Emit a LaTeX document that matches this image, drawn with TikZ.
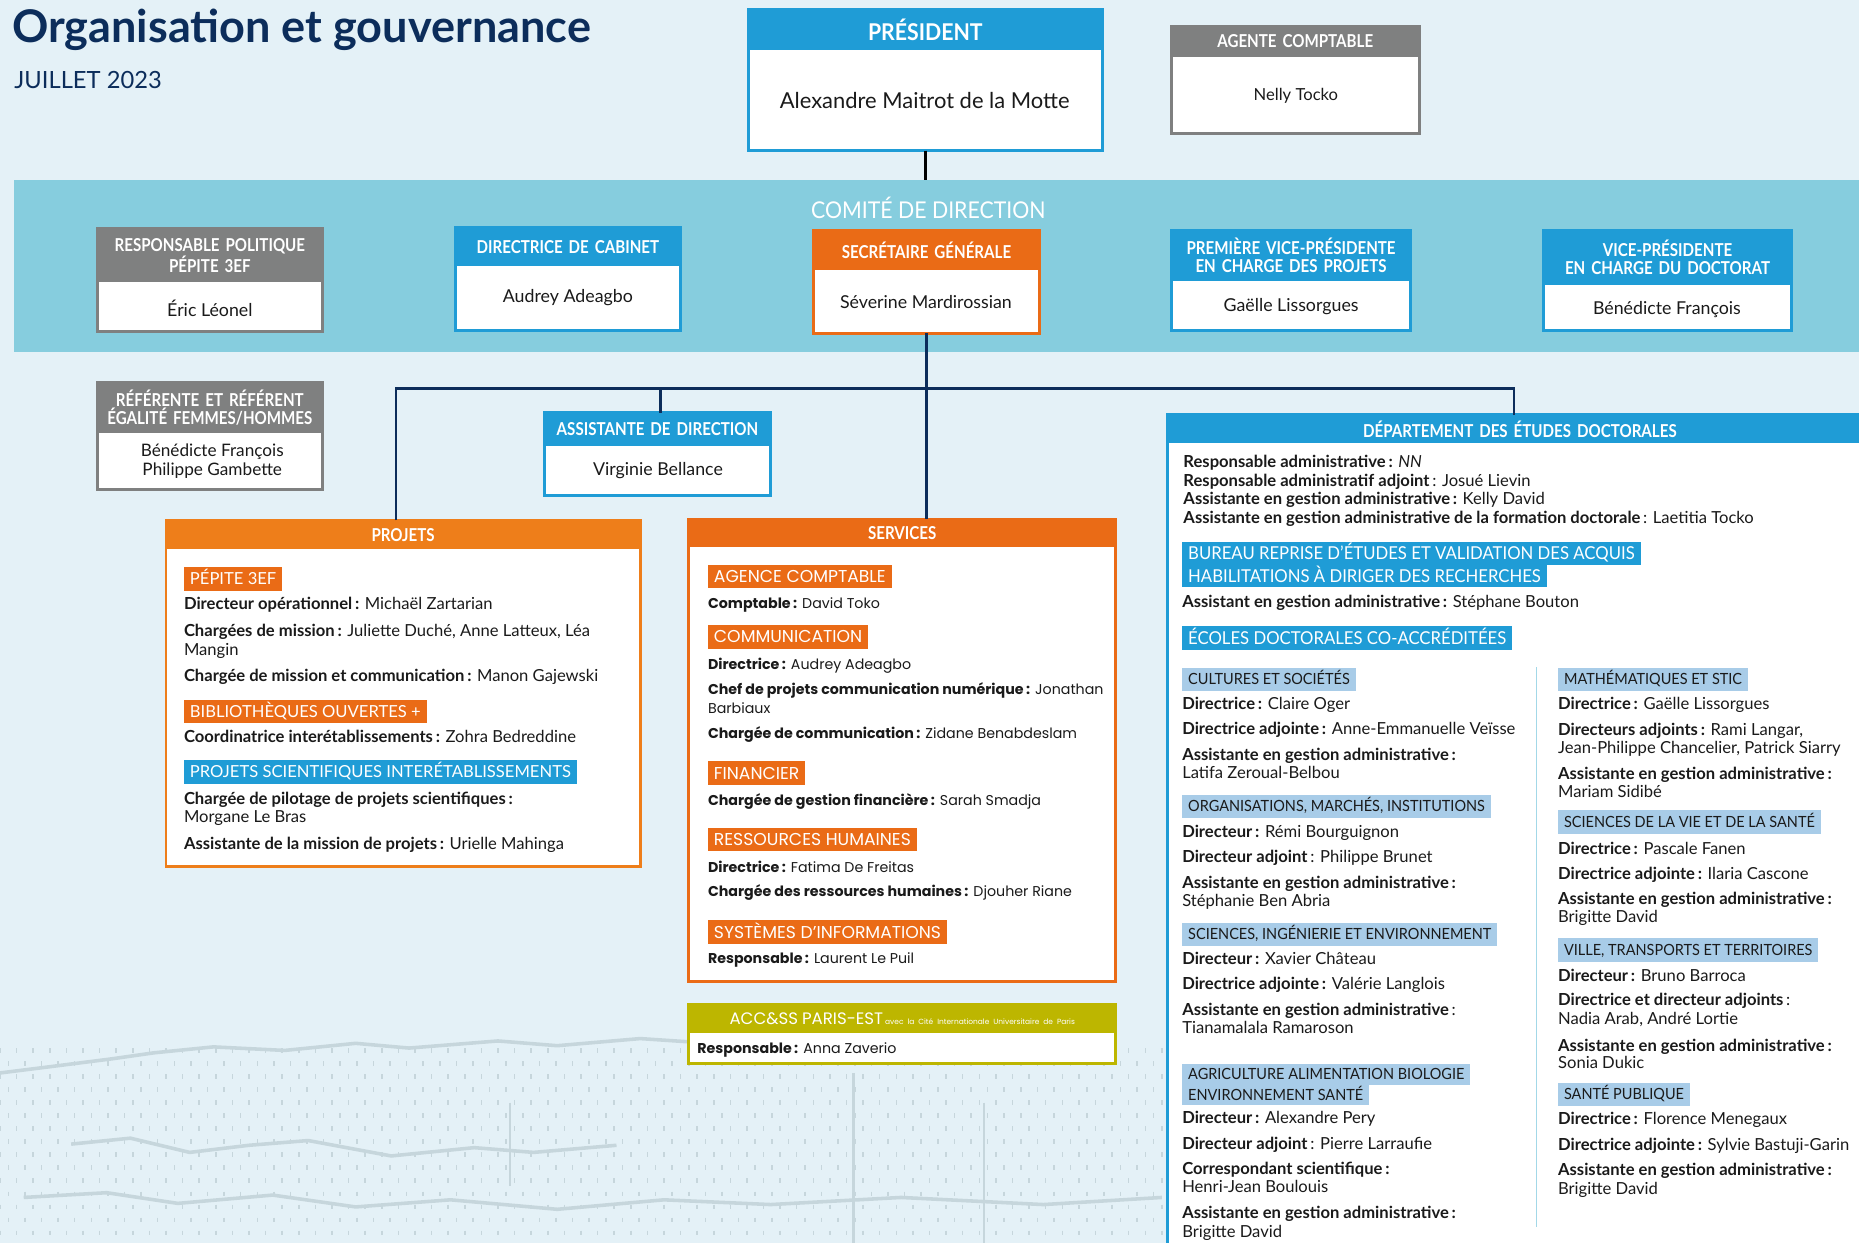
\documentclass[tikz,border=0pt]{standalone}
\usepackage{fontspec}
\setmainfont{Lato}
\newfontfamily\hdrf[FakeStretch=0.85]{Lato}
\newfontfamily\hdrw[FakeStretch=0.92]{Lato}
\newfontfamily\tagf[FakeStretch=0.94]{Lato}
\newfontfamily\popf{Poppins}
\newcounter{entc}
\definecolor{bgc}{HTML}{E4F1F7}
\definecolor{texc}{HTML}{C6D6DC}
\definecolor{bandc}{HTML}{86CDDE}
\definecolor{blueC}{HTML}{1F9CD6}
\definecolor{orangeC}{HTML}{EA6B16}
\definecolor{orangeL}{HTML}{EE7E1A}
\definecolor{grayC}{HTML}{7F8080}
\definecolor{oliveC}{HTML}{BDB600}
\definecolor{lblueC}{HTML}{A8CCE8}
\definecolor{navyC}{HTML}{0C2D5B}
\definecolor{txtC}{HTML}{1A1A1A}
\definecolor{sepC}{HTML}{A3D8E8}
\tikzset{
  box/.style={draw=#1, line width=2.5pt, fill=white, anchor=north west, inner sep=0pt, outer sep=0pt},
  hdr/.style={fill=#1, anchor=north west, inner sep=0pt, outer sep=0pt, text=white, align=center},
  hfont/.style={font=\hdrf\bfseries\fontsize{15}{15}\selectfont},
  bodyt/.style={text=txtC, font=\fontsize{15}{16}\selectfont, align=center, inner sep=0pt},
  conn/.style={draw=navyC, line width=2.5pt},
  tex/.style={draw=texc, line width=1.2pt},
  tagO/.style={fill=orangeC, text=white, anchor=north west, inner xsep=5pt, inner ysep=0pt, minimum height=20pt, text height=10pt, text depth=0pt, font=\fontsize{14}{14}\selectfont},
  tagB/.style={tagO, fill=blueC},
  tagS/.style={tagO, font=\popf\fontsize{14.5}{14.5}\selectfont, text height=10pt},
  tagD/.style={tagO, fill=blueC, font=\tagf\fontsize{15}{15}\selectfont, text height=10.5pt},
  tagL/.style={tagO, fill=lblueC, text=txtC, font=\tagf\fontsize{13}{13}\selectfont, text height=9pt},
  entP/.style={anchor=base west, inner sep=0pt, text=txtC, font=\fontsize{14}{14}\selectfont},
  entS/.style={anchor=base west, inner sep=0pt, text=txtC, font=\popf\fontsize{12}{12}\selectfont},
  entD/.style={anchor=base west, inner sep=0pt, text=txtC, font=\fontsize{14}{14}\selectfont},
}
\newcommand\ent[4][entD]{\stepcounter{entc}\edef\entname{e\arabic{entc}}\node[#1] (\entname) at (#2,{#3+4.5}) {#4};}
\newcommand\orgbox[9]{%
  \node[box=#2, minimum width=#5pt, minimum height=#6pt] (#1) at (#3,#4) {};
  \node[hdr=#2, hfont, #8, minimum width=#5pt, minimum height=#7pt, text width=#5pt] (#1h) at (#3,#4) {#9};
}
\begin{document}
\begin{tikzpicture}[x=1pt,y=-1pt]
\useasboundingbox (0,0) rectangle (1568,1048);
\fill[bgc] (0,0) rectangle (1568,1048);
\clip (0,0) rectangle (1568,1048);

% faint background texture (lower left)
\foreach \i in {0,...,70} {
  \foreach \j in {0,...,15} {
    \draw[tex, line width=1.3pt] ({\i*14+mod(\j,2)*7},{884+\j*11}) -- ++(0,4);
  }
}
\draw[tex, line width=3pt] (0,905) -- (40,900) -- (95,893) -- (130,888) -- (180,883) -- (240,886) -- (300,880) -- (345,884) -- (420,878) -- (470,882) -- (540,876) -- (600,880);
\draw[tex, line width=3pt] (60,965) -- (110,960) -- (160,972) -- (210,966) -- (260,962) -- (330,975) -- (400,968) -- (450,972) -- (520,966);
\draw[tex, line width=3pt] (20,1010) -- (90,1006) -- (150,1015) -- (230,1008) -- (300,1018) -- (380,1012) -- (470,1020) -- (560,1012) -- (650,1016) -- (760,1010) -- (880,1016) -- (980,1010);
\draw[tex, line width=2pt] (720,905) -- (720,1048);
\draw[tex, line width=2pt] (830,930) -- (830,1048);
\draw[tex, line width=2pt] (430,930) -- (430,1000);

% title
\node[anchor=base west, inner sep=0pt, text=navyC, font=\bfseries\fontsize{38}{40}\selectfont] (title) at (10,36) {Organisation et gouvernance};
\node[anchor=base west, inner sep=0pt, text=navyC, font=\fontsize{20}{20}\selectfont] (date) at (12,75) {JUILLET 2023};

% comite band
\node[fill=bandc, anchor=north west, inner sep=0pt, minimum width=1556pt, minimum height=145pt] (codir) at (12,152) {};
\node[text=white, inner sep=0pt, font=\hdrw\fontsize{19.5}{20}\selectfont] (codirt) at (783,175) {COMITÉ DE DIRECTION};

% president & agente comptable
\orgbox{pres}{blueC}{631}{8}{299}{119}{34}{font=\hdrw\bfseries\fontsize{19.5}{20}\selectfont}{PRÉSIDENT}
\node[bodyt, font=\fontsize{18.5}{20}\selectfont] (presn) at (780,85) {Alexandre Maitrot de la Motte};
\orgbox{agc}{grayC}{988}{22}{209}{91}{26}{}{AGENTE COMPTABLE}
\node[bodyt, font=\fontsize{14}{16}\selectfont] (agcn) at (1093,81) {Nelly Tocko};

% comite members
\orgbox{cA}{grayC}{82}{193}{190}{87}{45}{}{RESPONSABLE POLITIQUE\\PÉPITE 3EF}
\node[bodyt] (cAn) at (177,260) {Éric Léonel};
\orgbox{cB}{blueC}{384}{192}{190}{87}{32}{}{DIRECTRICE DE CABINET}
\node[bodyt] (cBn) at (479,251) {Audrey Adeagbo};
\orgbox{cC}{orangeC}{686}{194}{191}{87}{34}{}{SECRÉTAIRE GÉNÉRALE}
\node[bodyt] (cCn) at (781,255) {Séverine Mardirossian};
\orgbox{cD}{blueC}{988}{194}{202}{85}{43}{}{PREMIÈRE VICE-PRÉSIDENTE\\EN CHARGE DES PROJETS}
\node[bodyt] (cDn) at (1089,259) {Gaëlle Lissorgues};
\orgbox{cE}{blueC}{1302}{194}{209}{85}{46}{}{VICE-PRÉSIDENTE\\EN CHARGE DU DOCTORAT}
\node[bodyt] (cEn) at (1406,261) {Bénédicte François};

% referents
\orgbox{ref}{grayC}{82}{323}{190}{90}{42}{}{RÉFÉRENTE ET RÉFÉRENT\\ÉGALITÉ FEMMES/HOMMES}
\node[bodyt, font=\fontsize{14.5}{16}\selectfont] (refn) at (179,389) {Bénédicte François\\Philippe Gambette};

% assistante de direction
\orgbox{asd}{blueC}{459}{348}{191}{70}{28}{}{ASSISTANTE DE DIRECTION}
\node[bodyt] (asdn) at (555,397) {Virginie Bellance};

% big boxes
\orgbox{proj}{orangeL}{140}{439}{400}{292}{24}{}{PROJETS}
\orgbox{serv}{orangeC}{581}{438}{360}{390}{23}{}{SERVICES}
\orgbox{acc}{oliveC}{581}{847}{360}{50}{24}{font=\mdseries}{\mbox{\popf\mdseries\fontsize{14}{14}\selectfont ACC\&SS PARIS-EST}\,\mbox{\popf\mdseries\fontsize{6.3}{6.3}\selectfont avec la Cité Internationale Universitaire de Paris}}
\ent[entS]{588}{884}{\textbf{Responsable\,:} Anna Zaverio}
\orgbox{ded}{blueC}{985}{350}{594}{720}{24}{}{DÉPARTEMENT DES ÉTUDES DOCTORALES}

% connectors
\draw[conn, draw=black] (pres.south) -- (pres.south |- codir.north);
\coordinate (busC) at (781,328);
\coordinate (busL) at (334,328);
\coordinate (busA) at (557,328);
\coordinate (busR) at (1277,328);
\draw[conn] (cC.south) -- (cC.south |- serv.north);
\draw[conn] (busL |- proj.north) -- (busL) -- (busR) -- (busR |- ded.north);
\draw[conn] (busA) -- (busA |- asd.north);

% PROJETS content
\node[tagO] (tp1) at (155,478) {PÉPITE 3EF};
\ent[entP]{155}{510}{\textbf{Directeur opérationnel\,:} Michaël Zartarian}
\ent[entP]{155}{532}{\textbf{Chargées de mission\,:} Juliette Duché, Anne Latteux, Léa}
\ent[entP]{155}{548}{Mangin}
\ent[entP]{155}{570}{\textbf{Chargée de mission et communication\,:} Manon Gajewski}
\node[tagO] (tp2) at (155,590) {BIBLIOTHÈQUES OUVERTES +};
\ent[entP]{155}{622}{\textbf{Coordinatrice interétablissements\,:} Zohra Bedreddine}
\node[tagB] (tp3) at (155,641) {PROJETS SCIENTIFIQUES INTERÉTABLISSEMENTS};
\ent[entP]{155}{674}{\textbf{Chargée de pilotage de projets scientifiques\,:}}
\ent[entP]{155}{689}{Morgane Le Bras}
\ent[entP]{155}{712}{\textbf{Assistante de la mission de projets\,:} Urielle Mahinga}

% SERVICES content
\node[tagS] (ts1) at (597,476) {AGENCE COMPTABLE};
\ent[entS]{597}{509}{\textbf{Comptable\,:} David Toko}
\node[tagS] (ts2) at (597,527) {COMMUNICATION};
\ent[entS]{597}{560}{\textbf{Directrice\,:} Audrey Adeagbo}
\ent[entS]{597}{581}{\textbf{Chef de projets communication numérique\,:} Jonathan}
\ent[entS]{597}{597}{Barbiaux}
\ent[entS]{597}{618}{\textbf{Chargée de communication\,:} Zidane Benabdeslam}
\node[tagS] (ts3) at (597,642) {FINANCIER};
\ent[entS]{597}{675}{\textbf{Chargée de gestion financière\,:} Sarah Smadja}
\node[tagS] (ts4) at (597,698) {RESSOURCES HUMAINES};
\ent[entS]{597}{731}{\textbf{Directrice\,:} Fatima De Freitas}
\ent[entS]{597}{752}{\textbf{Chargée des ressources humaines\,:} Djouher Riane}
\node[tagS] (ts5) at (597,776) {SYSTÈMES D’INFORMATIONS};
\ent[entS]{597}{808}{\textbf{Responsable\,:} Laurent Le Puil}

% DED content
\ent{998}{390}{\textbf{Responsable administrative\,:} \textit{NN}}
\ent{998}{406}{\textbf{Responsable administratif adjoint}\,: Josué Lievin}
\ent{998}{421}{\textbf{Assistante en gestion administrative\,:} Kelly David}
\ent{998}{437}{\textbf{Assistante en gestion administrative de la formation doctorale}\,: Laetitia Tocko}
\node[tagD, minimum height=19pt] (tb1) at (997,457) {BUREAU REPRISE D’ÉTUDES ET VALIDATION DES ACQUIS};
\node[tagD, minimum height=19pt] (tb2) at (997,476) {HABILITATIONS À DIRIGER DES RECHERCHES};
\ent{997}{508}{\textbf{Assistant en gestion administrative\,:} Stéphane Bouton}
\node[tagD] (tb3) at (997,528) {ÉCOLES DOCTORALES CO-ACCRÉDITÉES};

\draw[draw=sepC, line width=1.5pt] (1296,563) coordinate (sepT) -- (1296,1035) coordinate (sepB);

% left column
\node[tagL] (tl1) at (997,563) {CULTURES ET SOCIÉTÉS};
\ent{997}{594}{\textbf{Directrice\,:} Claire Oger}
\ent{997}{615}{\textbf{Directrice adjointe\,:} Anne-Emmanuelle Veïsse}
\ent{997}{637}{\textbf{Assistante en gestion administrative\,:}}
\ent{997}{652}{Latifa Zeroual-Belbou}
\node[tagL] (tl2) at (997,670) {ORGANISATIONS, MARCHÉS, INSTITUTIONS};
\ent{997}{702}{\textbf{Directeur\,:} Rémi Bourguignon}
\ent{997}{723}{\textbf{Directeur adjoint}\,: Philippe Brunet}
\ent{997}{745}{\textbf{Assistante en gestion administrative\,:}}
\ent{997}{760}{Stéphanie Ben Abria}
\node[tagL] (tl3) at (997,778) {SCIENCES, INGÉNIERIE ET ENVIRONNEMENT};
\ent{997}{809}{\textbf{Directeur\,:} Xavier Château}
\ent{997}{830}{\textbf{Directrice adjointe\,:} Valérie Langlois}
\ent{997}{852}{\textbf{Assistante en gestion administrative}\,:}
\ent{997}{867}{Tianamalala Ramaroson}
\node[tagL, minimum height=18pt] (tl4) at (997,897) {AGRICULTURE ALIMENTATION BIOLOGIE};
\node[tagL, minimum height=17pt] (tl5) at (997,915) {ENVIRONNEMENT SANTÉ};
\ent{997}{943}{\textbf{Directeur\,:} Alexandre Pery}
\ent{997}{965}{\textbf{Directeur adjoint}\,: Pierre Larraufie}
\ent{997}{986}{\textbf{Correspondant scientifique\,:}}
\ent{997}{1001}{Henri-Jean Boulouis}
\ent{997}{1023}{\textbf{Assistante en gestion administrative\,:}}
\ent{997}{1039}{Brigitte David}

% right column
\node[tagL] (tr1) at (1314,563) {MATHÉMATIQUES ET STIC};
\ent{1314}{594}{\textbf{Directrice\,:} Gaëlle Lissorgues}
\ent{1314}{616}{\textbf{Directeurs adjoints\,:} Rami Langar,}
\ent{1314}{631}{Jean-Philippe Chancelier, Patrick Siarry}
\ent{1314}{653}{\textbf{Assistante en gestion administrative\,:}}
\ent{1314}{668}{Mariam Sidibé}
\node[tagL] (tr2) at (1314,683) {SCIENCES DE LA VIE ET DE LA SANTÉ};
\ent{1314}{716}{\textbf{Directrice\,:} Pascale Fanen}
\ent{1314}{737}{\textbf{Directrice adjointe\,:} Ilaria Cascone}
\ent{1314}{758}{\textbf{Assistante en gestion administrative\,:}}
\ent{1314}{774}{Brigitte David}
\node[tagL] (tr3) at (1314,791) {VILLE, TRANSPORTS ET TERRITOIRES};
\ent{1314}{823}{\textbf{Directeur\,:} Bruno Barroca}
\ent{1314}{844}{\textbf{Directrice et directeur adjoints}\,:}
\ent{1314}{860}{Nadia Arab, André Lortie}
\ent{1314}{882}{\textbf{Assistante en gestion administrative\,:}}
\ent{1314}{897}{Sonia Dukic}
\node[tagL] (tr4) at (1314,913) {SANTÉ PUBLIQUE};
\ent{1314}{944}{\textbf{Directrice\,:} Florence Menegaux}
\ent{1314}{966}{\textbf{Directrice adjointe\,:} Sylvie Bastuji-Garin}
\ent{1314}{987}{\textbf{Assistante en gestion administrative\,:}}
\ent{1314}{1003}{Brigitte David}
\end{tikzpicture}
\end{document}
